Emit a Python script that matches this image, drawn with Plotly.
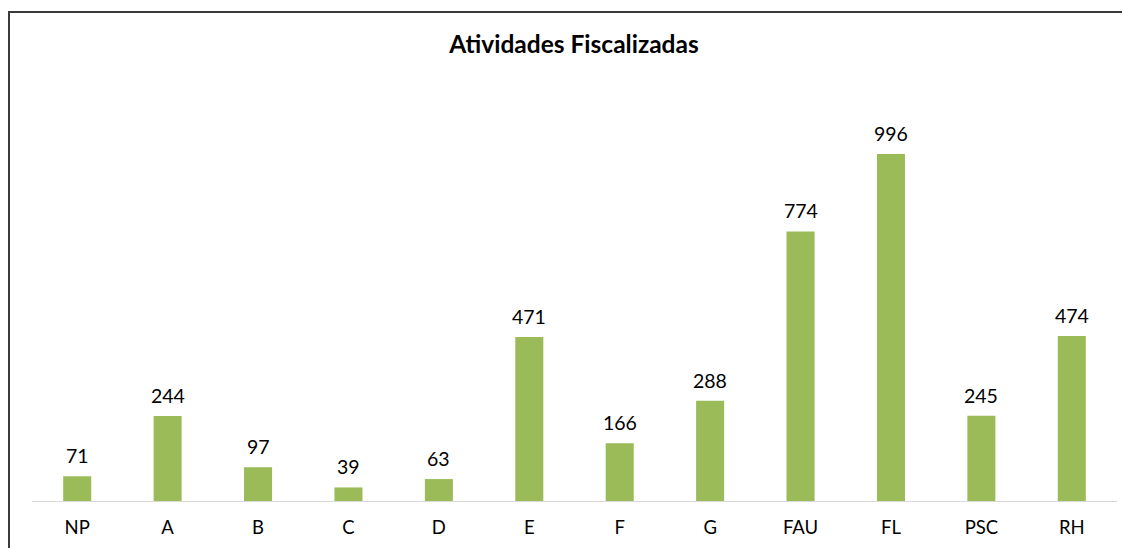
import plotly.graph_objects as go

categories = ["NP", "A", "B", "C", "D", "E", "F", "G", "FAU", "FL", "PSC", "RH"]
values = [71, 244, 97, 39, 63, 471, 166, 288, 774, 996, 245, 474]

W, H = 1130, 548
OFF = 8  # page body margin offset
L, R, T, B = 32 - OFF, 21, 83 - OFF, 548 - (501 - OFF)
pw, ph = W - L - R, H - T - B
FONT = "Lato, 'Open Sans', sans-serif"

fig = go.Figure(go.Bar(
    x=categories, y=values,
    marker=dict(color="#9BBB59", line=dict(width=0)),
    width=0.31,
    cliponaxis=False,
))

for c, v in zip(categories, values):
    fig.add_annotation(x=c, y=v, text=str(v), showarrow=False,
                       yanchor="bottom", yshift=7,
                       font=dict(family=FONT, size=19.5, color="#000000"))

def px_x(x):
    return (x - L) / pw

def px_y(y):
    return (H - B - y) / ph

fig.add_shape(type="rect", xref="paper", yref="paper",
              x0=px_x(1), x1=px_x(1200), y0=px_y(600), y1=px_y(12 - OFF),
              line=dict(color="#3a3a3a", width=2), fillcolor="rgba(0,0,0,0)", layer="below")

fig.update_layout(
    width=W, height=H,
    margin=dict(l=L, r=R, t=T, b=B, pad=0),
    paper_bgcolor="white", plot_bgcolor="white",
    showlegend=False,
    title=dict(text="<b>Atividades Fiscalizadas</b>", x=(574 - OFF) / W, xanchor="center",
               y=1 - (44 - OFF) / H, yanchor="middle",
               font=dict(family=FONT, size=24.5, color="#000000")),
    xaxis=dict(showline=True, linecolor="#D9D9D9", linewidth=1, ticks="",
               ticklabelstandoff=10,
               tickfont=dict(family=FONT, size=18.5, color="#000000"),
               showgrid=False, zeroline=False, fixedrange=True),
    yaxis=dict(range=[0, 1200], visible=False, showgrid=False, zeroline=False),
)

fig.write_html("out.html")
